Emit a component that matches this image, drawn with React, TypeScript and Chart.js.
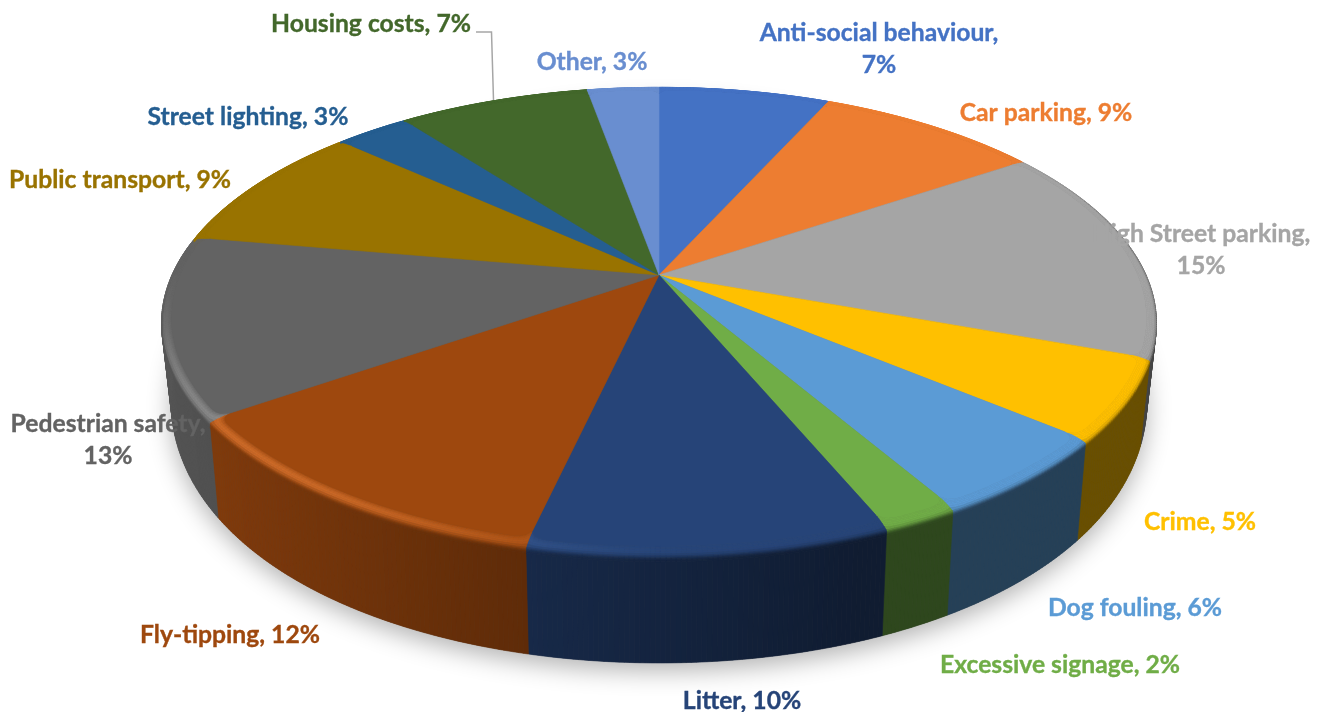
import React, { useEffect, useRef } from "react";
import { Chart, registerables } from "chart.js";

Chart.register(...registerables);

const categories = [
  "Anti-social behaviour", "Car parking", "High Street parking", "Crime", "Dog fouling",
  "Excessive signage", "Litter", "Fly-tipping", "Pedestrian safety", "Public transport",
  "Street lighting", "Housing costs", "Other",
];
const shares = [6.7, 8.8, 15.1, 5.49, 5.5, 2.1, 9.8, 11.7, 12.5, 9.0, 2.9, 7.49, 2.8];
const colours = [
  "#4472C4", "#ED7D31", "#A5A5A5", "#FFC000", "#5B9BD5", "#70AD47", "#264478",
  "#9E480E", "#636363", "#997300", "#255E91", "#43682B", "#698ED0",
];
// Label layout: [centre x, first line y, wraps onto two lines]
const labelLayout: [number, number, boolean][] = [
  [879, 33, true], [1046, 113, false], [1201, 234, true], [1200, 522, false], [1135, 608, false],
  [1060, 665, false], [742, 701, false], [230, 635, false], [108, 424, true], [120, 180, false],
  [248, 117, false], [371, 24, false], [592, 62, false],
];
const FONT = "bold 24.7px Lato";

// Camera of the tilted disc
const CX = 659, CY = 275, A = 488.5, B = 224.3, K = 0.193;
const B2 = 270.8, C2 = 70.6, K2 = 0.12;
const R0 = 0.98, ZB = 0.08, BASE_SHRINK = 0.02;
const CORNER_ANGLE = (2 * Math.PI) / 180, CORNER_DROP = 0.022;

const proj = (r: number, th: number, z: number): [number, number] => {
  const x = r * Math.sin(th), y = -r * Math.cos(th);
  const w = 1 - K * y;
  const top = (B * y) / w;
  const bot = (B2 * y + C2) / (1 - K2 * y);
  return [CX + ((A * x) / w) * (1 - BASE_SHRINK * z), CY + top + z * (bot - top)];
};
const rgb = (h: string) => [1, 3, 5].map((i) => parseInt(h.slice(i, i + 2), 16));
const mix = (a: number[], b: number[], t: number) => a.map((v, i) => v + (b[i] - v) * t);
const css = (c: number[]) => `rgb(${c.map((v) => Math.round(v)).join(",")})`;
const sstep = (a: number, b: number, v: number) => {
  const t = Math.min(1, Math.max(0, (v - a) / (b - a)));
  return t * t * (3 - 2 * t);
};
const wallFactor = (x: number) => Math.max(0.41, 0.87 - 0.346 * (x + 1));

const quad = (ctx: CanvasRenderingContext2D, pts: [number, number][], fill: string) => {
  ctx.beginPath();
  pts.forEach((p, i) => (i ? ctx.lineTo(p[0], p[1]) : ctx.moveTo(p[0], p[1])));
  ctx.closePath();
  ctx.fillStyle = fill;
  ctx.strokeStyle = fill;
  ctx.lineWidth = 0.6;
  ctx.fill();
  ctx.stroke();
};

const pie3d = {
  id: "pie3d",
  beforeDatasetsDraw(chart: any) {
    const ctx: CanvasRenderingContext2D = chart.ctx;
    const arcs = chart.getDatasetMeta(0).data;
    const STEP = Math.PI / 360;
    const pieces = arcs.map((a: any, i: number) => {
      const s = a.startAngle + Math.PI / 2, e = a.endAngle + Math.PI / 2;
      const n = Math.max(1, Math.ceil((e - s) / STEP));
      return { base: rgb(colours[i]), s, e, n, d: (e - s) / n };
    });
    // inner edge of the bevel, pulled in near slice ends so the corners round off
    const innerR = (p: any, t: number) => {
      const d = Math.min(t - p.s, p.e - t);
      if (d >= CORNER_ANGLE) return R0;
      const u = 1 - d / CORNER_ANGLE;
      return R0 - CORNER_DROP * (1 - Math.sqrt(Math.max(0, 1 - u * u)));
    };

    // soft shadow beneath the disc
    ctx.save();
    ctx.shadowColor = "rgba(0,0,0,0.3)";
    ctx.shadowBlur = 24;
    ctx.shadowOffsetY = 8;
    ctx.beginPath();
    for (let k = 0; k <= 360; k += 2) {
      const p = proj(1, (k * Math.PI) / 180, 1);
      k ? ctx.lineTo(p[0], p[1]) : ctx.moveTo(p[0], p[1]);
    }
    ctx.closePath();
    ctx.fillStyle = "#555";
    ctx.fill();
    ctx.restore();

    // outer wall
    pieces.forEach((p: any) => {
      for (let j = 0; j < p.n; j++) {
        const t0 = p.s + j * p.d, t1 = t0 + p.d, tm = (t0 + t1) / 2;
        const c = p.base.map((v: number) => v * wallFactor(Math.sin(tm)));
        quad(ctx, [proj(1, t0, ZB), proj(1, t1, ZB), proj(1, t1, 1), proj(1, t0, 1)], css(c));
      }
    });

    // rounded bevel
    const RINGS = 10;
    pieces.forEach((p: any) => {
      for (let j = 0; j < p.n; j++) {
        const t0 = p.s + j * p.d, t1 = t0 + p.d, tm = (t0 + t1) / 2;
        const x = Math.sin(tm), y = -Math.cos(tm);
        const wall = p.base.map((v: number) => v * wallFactor(x));
        const side = sstep(-0.3, 0.3, x);
        const amount = sstep(-0.7, -0.1, y) * side + sstep(-0.05, 0.4, y) * (1 - side);
        const glow = 0.32 * sstep(0.1, -0.7, x) * sstep(-0.05, 0.6, y);
        const bright = p.base.map((v: number) => Math.min(255, v * 1.25 + 35));
        const i0 = innerR(p, t0), i1 = innerR(p, t1);
        for (let q = 0; q < RINGS; q++) {
          const s0 = q / RINGS, s1 = (q + 1) / RINGS, sm = (s0 + s1) / 2;
          const r = (i: number, v: number) => i + (1 - i) * Math.min(1, v * 1.6);
          const z = (v: number) => ZB * v * v;
          const bump = Math.exp(-(((sm - 0.38) / 0.3) ** 2));
          let c = mix(p.base, bright, Math.min(1, 2 * glow * bump));
          c = mix(c, wall, amount * sstep(0.4, 1, sm));
          quad(ctx, [proj(r(i0, s0), t0, z(s0)), proj(r(i1, s0), t1, z(s0)), proj(r(i1, s1), t1, z(s1)), proj(r(i0, s1), t0, z(s1))], css(c));
        }
      }
    });

    // flat top
    pieces.forEach((p: any) => {
      const pts: [number, number][] = [[CX, CY]];
      for (let j = 0; j <= p.n; j++) {
        const t = p.s + j * p.d;
        pts.push(proj(innerR(p, t), t, 0));
      }
      quad(ctx, pts, css(p.base));
    });

    // leader line
    ctx.beginPath();
    ctx.moveTo(493.5, 100);
    ctx.lineTo(491.5, 32);
    ctx.lineTo(476, 32);
    ctx.strokeStyle = "#A6A6A6";
    ctx.lineWidth = 1.5;
    ctx.stroke();

    // labels
    ctx.font = FONT;
    ctx.textAlign = "center";
    ctx.textBaseline = "middle";
    ctx.lineWidth = 0.35;
    const put = (t: string, x: number, y: number) => {
      ctx.fillText(t, x, y);
      ctx.strokeText(t, x, y);
    };
    categories.forEach((cat, i) => {
      const [lx, ly, wrap] = labelLayout[i];
      const pct = `${Math.round(shares[i])}%`;
      ctx.fillStyle = colours[i];
      ctx.strokeStyle = colours[i];
      if (wrap) {
        put(`${cat},`, lx, ly);
        put(pct, lx, ly + 32);
      } else {
        put(`${cat}, ${pct}`, lx, ly);
      }
    });
    return false;
  },
};

export default function App() {
  const ref = useRef<HTMLCanvasElement>(null);
  useEffect(() => {
    const chart = new Chart(ref.current!, {
      type: "pie",
      data: {
        labels: categories,
        datasets: [{ data: shares, backgroundColor: colours, borderWidth: 0 }],
      },
      options: {
        responsive: false,
        animation: false,
        rotation: 0,
        plugins: { legend: { display: false }, tooltip: { enabled: false } },
      },
      plugins: [pie3d],
    } as any);
    return () => chart.destroy();
  }, []);
  return (
    <canvas
      ref={ref}
      width={1330}
      height={712}
      style={{ position: "absolute", left: 0, top: 0, display: "block" }}
    />
  );
}
